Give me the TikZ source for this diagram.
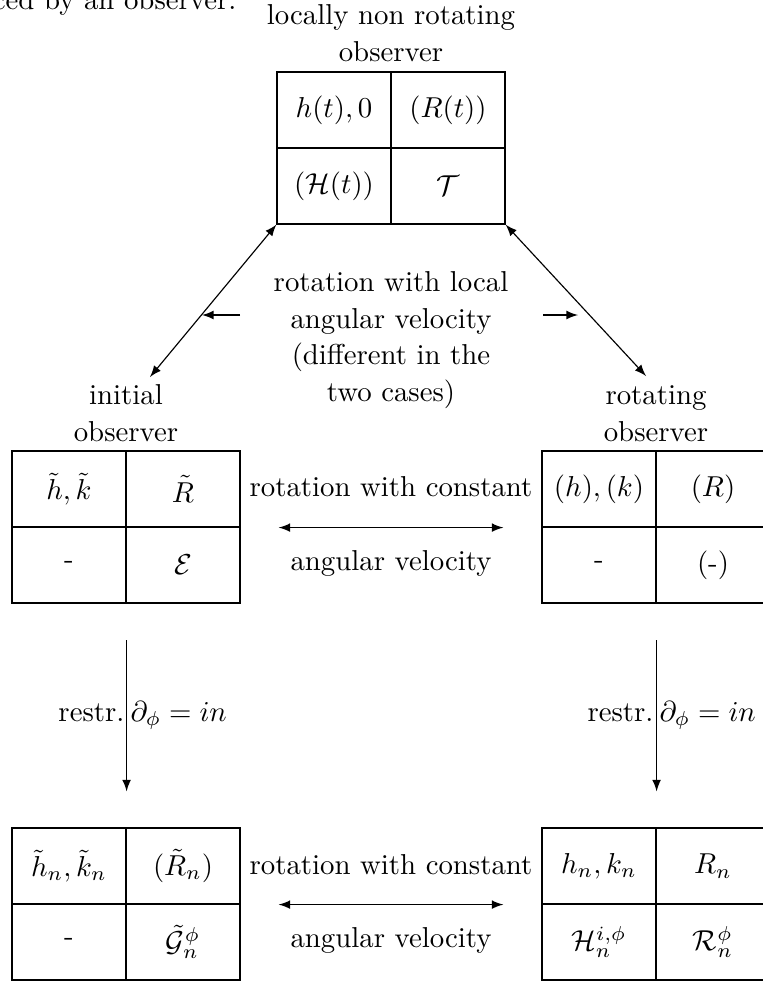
\documentclass[tikz,border=0pt]{standalone}
\begin{document}
\begin{tikzpicture}[x=0.3472pt,y=-0.3472pt,
  cell/.style={draw, line width=0.4pt, minimum width=39.6pt, minimum height=26.4pt, inner sep=0pt},
  lbl/.style={align=center, inner sep=0pt, font=\fontsize{10}{12.7}\selectfont},
  txt/.style={inner sep=0pt},
  conn/.style={latex-latex, line width=0.4pt},
  oneway/.style={-latex, line width=0.4pt}]
\useasboundingbox (0,0) rectangle (763,981);
\clip (0,0) rectangle (763,981);
\newcommand{\obsTable}[7]{%
  \node[cell] (#1a) at (#2+57,#3+38) {#4};
  \node[cell] (#1b) at (#2+171,#3+38) {#5};
  \node[cell] (#1c) at (#2+57,#3+114) {#6};
  \node[cell] (#1d) at (#2+171,#3+114) {#7};}
% tables
\obsTable{T}{277}{72}{$h(t),0$}{$(R(t))$}{$(\mathcal{H}(t))$}{$\mathcal{T}$}
\obsTable{L}{12}{451}{$\tilde h,\tilde k$}{$\tilde R$}{-}{$\mathcal{E}$}
\obsTable{R}{542}{451}{$(h),(k)$}{$(R)$}{-}{(-)}
\obsTable{P}{12}{828}{$\tilde h_n,\tilde k_n$}{$(\tilde R_n)$}{-}{$\tilde{\mathcal{G}}_n^\phi$}
\obsTable{Q}{542}{828}{$h_n,k_n$}{$R_n$}{$\mathcal{H}_n^{i,\phi}$}{$\mathcal{R}_n^\phi$}
% texts
\node[txt, anchor=base east] (cut) at (237,9) {ced by an observer.};
\node[lbl, anchor=south] (tl) at (391,62) {locally non rotating\\observer};
\node[lbl, anchor=south] (il) at (126,442) {initial\\observer};
\node[lbl, anchor=south] (rl) at (656,442) {rotating\\observer};
\node[lbl, anchor=north] (mid) at (391,271) {rotation with local\\angular velocity\\(different in the\\two cases)};
\node[txt, anchor=base] (hc1) at (391,496) {rotation with constant};
\node[txt, anchor=base] (hv1) at (391,570) {angular velocity};
\node[txt, anchor=base] (hc2) at (391,874) {rotation with constant};
\node[txt, anchor=base] (hv2) at (391,947) {angular velocity};
\node[txt, anchor=base east] (rs1) at (125,721) {restr.};
\node[txt, anchor=base west] (pd1) at (130,721) {$\partial_\phi = in$};
\node[txt, anchor=base east] (rs2) at (654,721) {restr.};
\node[txt, anchor=base west] (pd2) at (659,721) {$\partial_\phi = in$};
% connectors
\draw[conn, shorten <=13.2pt, shorten >=13.2pt] (Lb.south east) -- (Ra.south west);
\draw[conn, shorten <=13.2pt, shorten >=13.2pt] (Pb.south east) -- (Qa.south west);
\draw[oneway, shorten <=12.8pt, shorten >=12.5pt] (Lc.south east) -- (Pa.north east);
\draw[oneway, shorten <=12.8pt, shorten >=12.5pt] (Rc.south east) -- (Qa.north east);
\coordinate (dl) at (150,377);
\coordinate (dr) at (646,376);
\draw[conn] (Tc.south west) -- (dl);
\draw[conn] (Td.south east) -- (dr);
\coordinate (sl1) at (240,315);
\coordinate (sl2) at (202,315);
\coordinate (sr1) at (543,315);
\coordinate (sr2) at (578,315);
\draw[oneway] (sl1) -- (sl2);
\draw[oneway] (sr1) -- (sr2);
\end{tikzpicture}
\end{document}
